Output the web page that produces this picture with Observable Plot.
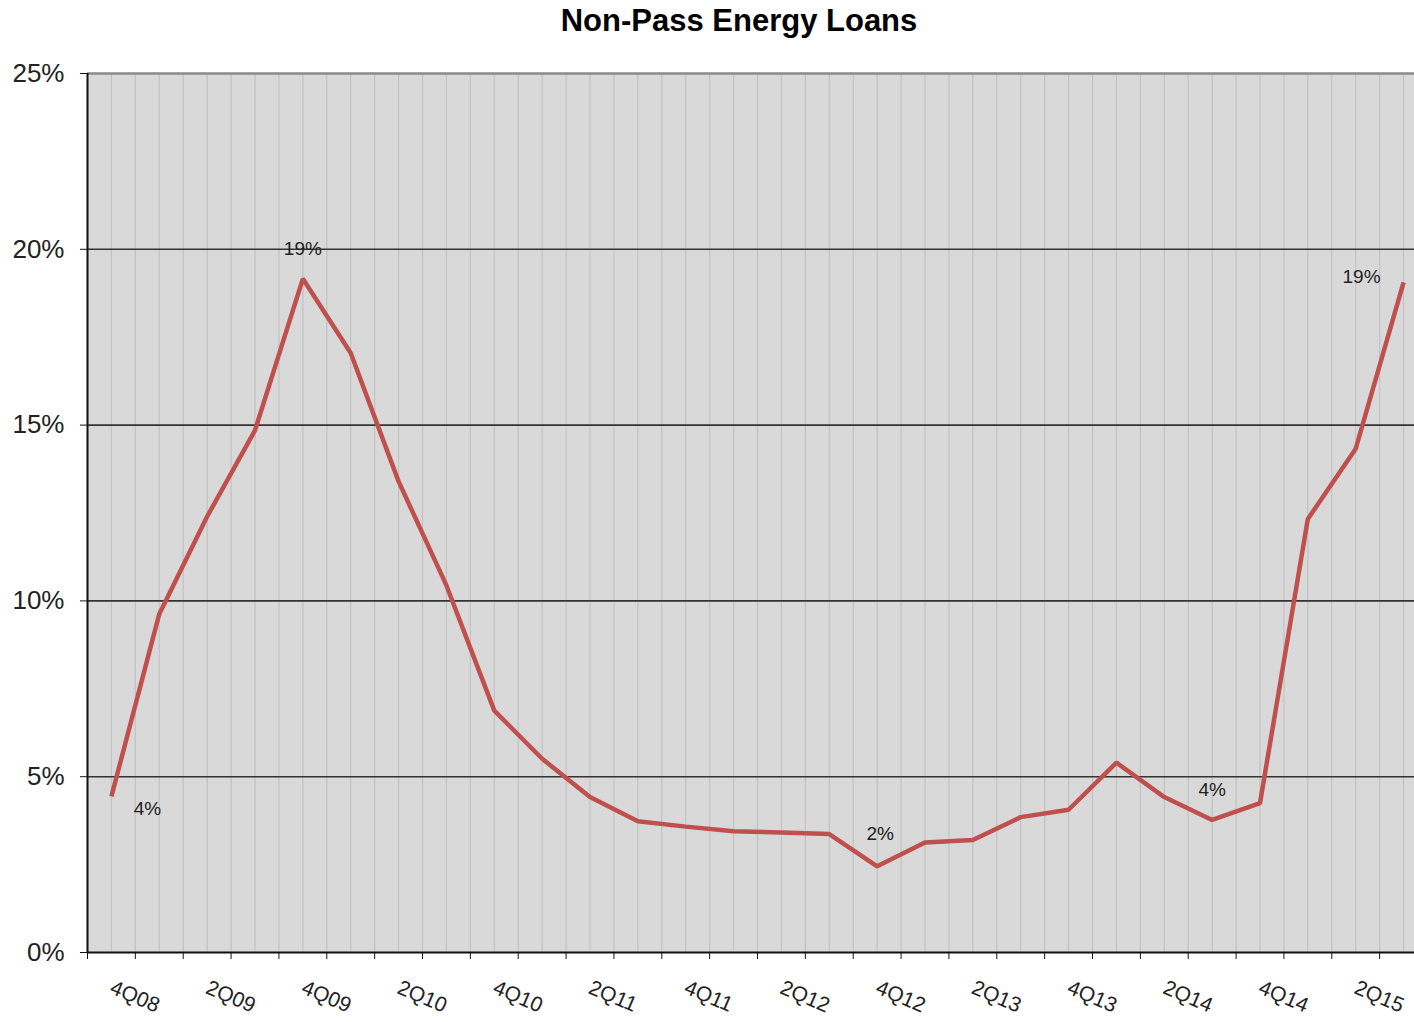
<!DOCTYPE html>
<html>
<head>
<meta charset="utf-8">
<script src="https://cdn.jsdelivr.net/npm/d3@7"></script>
<script src="https://cdn.jsdelivr.net/npm/@observablehq/plot@0.6"></script>
<style>
  html, body { margin: 0; padding: 0; background: #ffffff; overflow: hidden; }
  #title {
    width: 1414px; box-sizing: border-box; padding-left: 64px;
    text-align: center; font: bold 31px "Liberation Sans", Arial, sans-serif;
    line-height: 42px; height: 42px; color: #000;
  }
  #chart svg { display: block; }
</style>
</head>
<body>
<div id="title">Non-Pass Energy Loans</div>
<div id="chart"></div>
<script>
const quarters = ["4Q08","1Q09","2Q09","3Q09","4Q09","1Q10","2Q10","3Q10","4Q10","1Q11","2Q11","3Q11","4Q11","1Q12","2Q12","3Q12","4Q12","1Q13","2Q13","3Q13","4Q13","1Q14","2Q14","3Q14","4Q14","1Q15","2Q15","3Q15"];
const nonPassPct = [4.44, 9.63, 12.4, 14.85, 19.16, 17.05, 13.4, 10.44, 6.88, 5.51, 4.42, 3.73, 3.58, 3.45, 3.41, 3.37, 2.45, 3.13, 3.2, 3.85, 4.06, 5.4, 4.42, 3.77, 4.25, 12.33, 14.33, 19.06];
const yTicks = [0, 5, 10, 15, 20, 25];
const labelledQuarters = ["4Q08","4Q09","4Q12","3Q14","3Q15"];

const data = quarters.map((q, i) => ({q, i, v: nonPassPct[i]}));
const idx = quarters.map((q, i) => i);
const boundaries = idx.map(i => i - 0.5).concat([quarters.length - 0.5]);
const gridLines = idx.map(i => i).concat(idx.map(i => i + 0.5));
const evenIdx = idx.filter(i => i % 2 === 0);
const pick = q => data.filter(d => d.q === q);
const fmt = v => Math.round(v) + "%";
const font = '"Liberation Sans", Arial, sans-serif';

function label(q, dx, dy) {
  return Plot.text(pick(q), {x: "i", y: "v", text: d => fmt(d.v), dx, dy,
    fontSize: 19, fill: "#222", fontFamily: font});
}

const chart = Plot.plot({
  width: 1414,
  height: 980,
  marginTop: 31,
  marginBottom: 70,
  marginLeft: 87,
  marginRight: 0,
  style: {fontFamily: font, background: "#ffffff", color: "#222", overflow: "hidden"},
  x: {domain: [-0.5, quarters.length - 0.5], range: [87, 1427], axis: null},
  y: {domain: [0, 25], axis: null},
  marks: [
    Plot.frame({fill: "#d9d9d9", stroke: null}),
    Plot.ruleX(gridLines, {stroke: "#c2c2c2", strokeWidth: 1.2}),
    Plot.ruleY(yTicks.filter(t => t > 0 && t < 25), {stroke: "#333", strokeWidth: 1.6}),
    Plot.ruleY([25], {stroke: "#8a8a8a", strokeWidth: 2.5}),
    Plot.ruleX([-0.5], {stroke: "#111", strokeWidth: 2}),
    Plot.ruleY([0], {stroke: "#111", strokeWidth: 2.2}),
    Plot.axisY({ticks: yTicks, tickFormat: d => d + "%", tickSize: 7, tickPadding: 16,
      fontSize: 26, stroke: "#111", fill: "#222", label: null}),
    Plot.axisX({ticks: boundaries, tickFormat: () => "", tickSize: 7, stroke: "#111", label: null}),
    Plot.axisX({ticks: evenIdx, tickFormat: i => quarters[i], tickSize: 0, tickPadding: 34,
      tickRotate: 23, textAnchor: "start", fontSize: 21, fill: "#222", label: null}),
    Plot.line(data, {x: "i", y: "v", stroke: "#c0504d", strokeWidth: 4.5,
      strokeLinejoin: "miter", strokeLinecap: "butt"}),
    label("4Q08", 36, 13),
    label("4Q09", 0, -30),
    label("4Q12", 3, -32),
    label("3Q14", 0, -30),
    label("3Q15", -42, -5)
  ]
});
document.getElementById("chart").appendChild(chart);
</script>
</body>
</html>
